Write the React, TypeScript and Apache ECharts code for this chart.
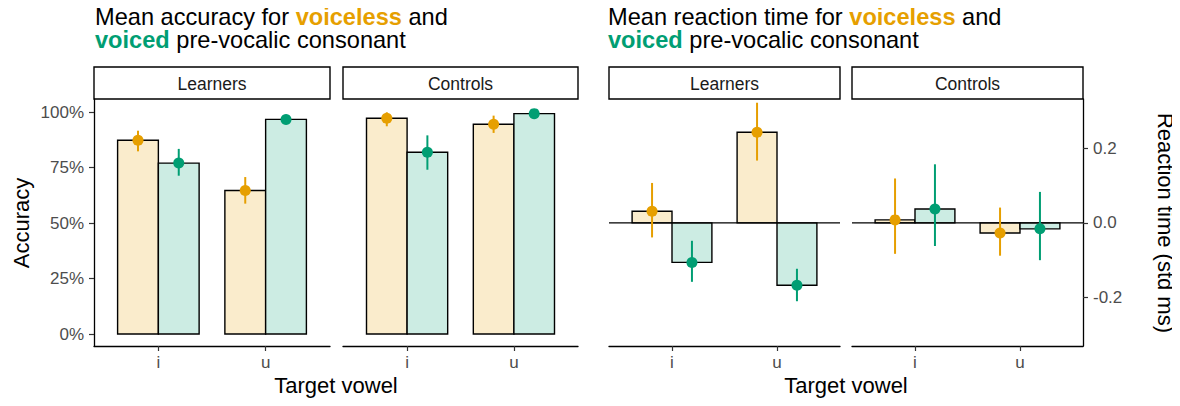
import React, { useEffect, useRef } from "react";
import * as echarts from "echarts";

const vowels = ["i", "u"];
const groups = ["Learners", "Controls"];
const voicings = ["voiceless", "voiced"];

// [mean, lower, upper] per vowel (i, u)
const accLearnersVoiceless = [[0.874, 0.824, 0.917], [0.647, 0.588, 0.708]];
const accLearnersVoiced = [[0.771, 0.714, 0.835], [0.968, 0.958, 0.977]];
const accControlsVoiceless = [[0.973, 0.937, 1.0], [0.946, 0.907, 0.985]];
const accControlsVoiced = [[0.82, 0.741, 0.896], [0.994, 0.986, 1.0]];

const rtLearnersVoiceless = [[0.031, -0.039, 0.107], [0.243, 0.167, 0.322]];
const rtLearnersVoiced = [[-0.106, -0.158, -0.048], [-0.167, -0.21, -0.123]];
const rtControlsVoiceless = [[0.008, -0.083, 0.119], [-0.027, -0.088, 0.041]];
const rtControlsVoiced = [[0.037, -0.062, 0.157], [-0.016, -0.1, 0.083]];

const accTicks = [0, 0.25, 0.5, 0.75, 1];
const rtTicks = [-0.2, 0, 0.2];

const ORANGE = "#E69F00";
const GREEN = "#009E73";
const ORANGE_FILL = "#FAECCC";
const GREEN_FILL = "#CCECE3";
const FONT = "Liberation Sans, Arial, Helvetica, sans-serif";
const TICK_COLOR = "#4D4D4D";

const HALF = 0.19;

export default function App() {
  const ref = useRef<HTMLDivElement>(null);
  useEffect(() => {
    const chart = echarts.init(ref.current!, null, { renderer: "svg" });

    const panels = [
      { left: 94, width: 236, kind: "acc", group: 0, data: [accLearnersVoiceless, accLearnersVoiced] },
      { left: 343, width: 235, kind: "acc", group: 1, data: [accControlsVoiceless, accControlsVoiced] },
      { left: 609, width: 231, kind: "rt", group: 0, data: [rtLearnersVoiceless, rtLearnersVoiced] },
      { left: 852, width: 231, kind: "rt", group: 1, data: [rtControlsVoiceless, rtControlsVoiced] },
    ];
    const TOP = 99;
    const HEIGHT = 247;

    const grid = panels.map((p) => ({ left: p.left, width: p.width, top: TOP, height: HEIGHT }));
    const xAxis = panels.map((p, i) => ({
      type: "value",
      gridIndex: i,
      min: 0.4,
      max: 2.6,
      splitLine: { show: false },
      axisLine: { show: true, onZero: false, lineStyle: { color: "#000", width: 1.3 } },
      axisTick: { show: true, customValues: [1, 2], length: 5, lineStyle: { color: "#333", width: 1.2 } },
      axisLabel: {
        show: true,
        customValues: [1, 2],
        formatter: (v: number) => vowels[Math.round(v) - 1],
        color: TICK_COLOR,
        fontSize: 17,
        fontFamily: FONT,
        margin: 8,
      },
    }));
    const yAxis = panels.map((p, i) => {
      const isAcc = p.kind === "acc";
      const showAxis = (isAcc && p.group === 0) || (!isAcc && p.group === 1);
      return {
        type: "value",
        gridIndex: i,
        min: isAcc ? -0.054 : -0.33,
        max: isAcc ? 1.06 : 0.332,
        position: isAcc ? "left" : "right",
        show: showAxis,
        splitLine: { show: false },
        axisLine: { show: true, lineStyle: { color: "#000", width: 1.3 } },
        axisTick: { show: true, customValues: isAcc ? accTicks : rtTicks, length: 5, lineStyle: { color: "#333", width: 1.2 } },
        axisLabel: {
          customValues: isAcc ? accTicks : rtTicks,
          formatter: (v: number) => (isAcc ? Math.round(v * 100) + "%" : v.toFixed(1)),
          color: TICK_COLOR,
          fontSize: 17,
          fontFamily: FONT,
          margin: 10,
        },
      };
    });

    const series: any[] = [];
    panels.forEach((p, gi) => {
      voicings.forEach((vc, vi) => {
        const off = vi === 0 ? -HALF : HALF;
        const pts = p.data[vi].map((d, k) => [k + 1 + off, d[0], d[1], d[2]]);
        const fill = vi === 0 ? ORANGE_FILL : GREEN_FILL;
        series.push({
          type: "custom",
          name: vc + " bars",
          xAxisIndex: gi,
          yAxisIndex: gi,
          z: 2,
          data: pts,
          renderItem: (params: any, api: any) => {
            const x = api.value(0);
            const v = api.value(1);
            const a = api.coord([x - HALF, 0]);
            const b = api.coord([x + HALF, v]);
            return {
              type: "rect",
              shape: { x: a[0], y: Math.min(a[1], b[1]), width: b[0] - a[0], height: Math.abs(b[1] - a[1]) },
              style: { fill, stroke: "#000", lineWidth: 1.4 },
            };
          },
        });
      });
    });
    panels.forEach((p, gi) => {
      if (p.kind === "rt") {
        series.push({
          type: "line",
          xAxisIndex: gi,
          yAxisIndex: gi,
          z: 3,
          symbol: "none",
          data: [[0.4, 0], [2.6, 0]],
          lineStyle: { color: "#000", width: 1.4 },
          silent: true,
        });
      }
    });
    panels.forEach((p, gi) => {
      voicings.forEach((vc, vi) => {
        const off = vi === 0 ? -HALF : HALF;
        const pts = p.data[vi].map((d, k) => [k + 1 + off, d[0], d[1], d[2]]);
        const color = vi === 0 ? ORANGE : GREEN;
        series.push({
          type: "custom",
          name: vc + " errors",
          xAxisIndex: gi,
          yAxisIndex: gi,
          z: 4,
          data: pts,
          renderItem: (params: any, api: any) => {
            const x = api.value(0);
            const a = api.coord([x, api.value(2)]);
            const b = api.coord([x, api.value(3)]);
            return {
              type: "line",
              shape: { x1: a[0], y1: a[1], x2: b[0], y2: b[1] },
              style: { stroke: color, lineWidth: 2 },
            };
          },
        });
        series.push({
          type: "scatter",
          name: vc,
          xAxisIndex: gi,
          yAxisIndex: gi,
          z: 5,
          symbol: "circle",
          symbolSize: 11,
          itemStyle: { color, opacity: 1 },
          data: pts.map((d) => [d[0], d[1]]),
        });
      });
    });

    const graphic: any[] = [];
    panels.forEach((p) => {
      graphic.push({
        type: "rect",
        shape: { x: p.left, y: 67, width: p.width, height: 32 },
        style: { fill: "#fff", stroke: "#000", lineWidth: 1.4 },
      });
      graphic.push({
        type: "text",
        x: p.left + p.width / 2,
        y: 83.5,
        style: { text: groups[p.group], align: "center", verticalAlign: "middle", fill: "#1A1A1A", fontSize: 17.5, fontFamily: FONT },
      });
    });
    const axisTitle = { fill: "#000", fontSize: 22, fontFamily: FONT, align: "center", verticalAlign: "middle" };
    graphic.push({ type: "text", x: 336, y: 385, style: { ...axisTitle, text: "Target vowel" } });
    graphic.push({ type: "text", x: 846, y: 385, style: { ...axisTitle, text: "Target vowel" } });
    graphic.push({ type: "text", x: 21, y: 223, rotation: Math.PI / 2, style: { ...axisTitle, text: "Accuracy" } });
    graphic.push({
      type: "text",
      x: 1165,
      y: 223,
      rotation: -Math.PI / 2,
      style: { ...axisTitle, text: "Reaction time (std ms)" },
    });

    const LH = 23.5;
    const rich = {
      a: { fontSize: 23.6, fontFamily: FONT, color: "#000", fontWeight: "normal", lineHeight: LH },
      o: { fontSize: 23.6, fontFamily: FONT, color: ORANGE, fontWeight: "bold", lineHeight: LH },
      g: { fontSize: 23.6, fontFamily: FONT, color: GREEN, fontWeight: "bold", lineHeight: LH },
    };
    const title = [
      {
        left: 95,
        top: 5,
        padding: 0,
        text: "{a|Mean accuracy for }{o|voiceless}{a| and}\n{g|voiced}{a| pre-vocalic consonant}",
        textStyle: { rich, fontWeight: "normal", lineHeight: LH },
      },
      {
        left: 608,
        top: 5,
        padding: 0,
        text: "{a|Mean reaction time for }{o|voiceless}{a| and}\n{g|voiced}{a| pre-vocalic consonant}",
        textStyle: { rich, fontWeight: "normal", lineHeight: LH },
      },
    ];

    chart.setOption({
      animation: false,
      backgroundColor: "#fff",
      title,
      grid,
      xAxis,
      yAxis,
      series,
      graphic,
    });
    return () => chart.dispose();
  }, []);
  return <div ref={ref} style={{ width: 1180, height: 406, margin: -8 }} />;
}
